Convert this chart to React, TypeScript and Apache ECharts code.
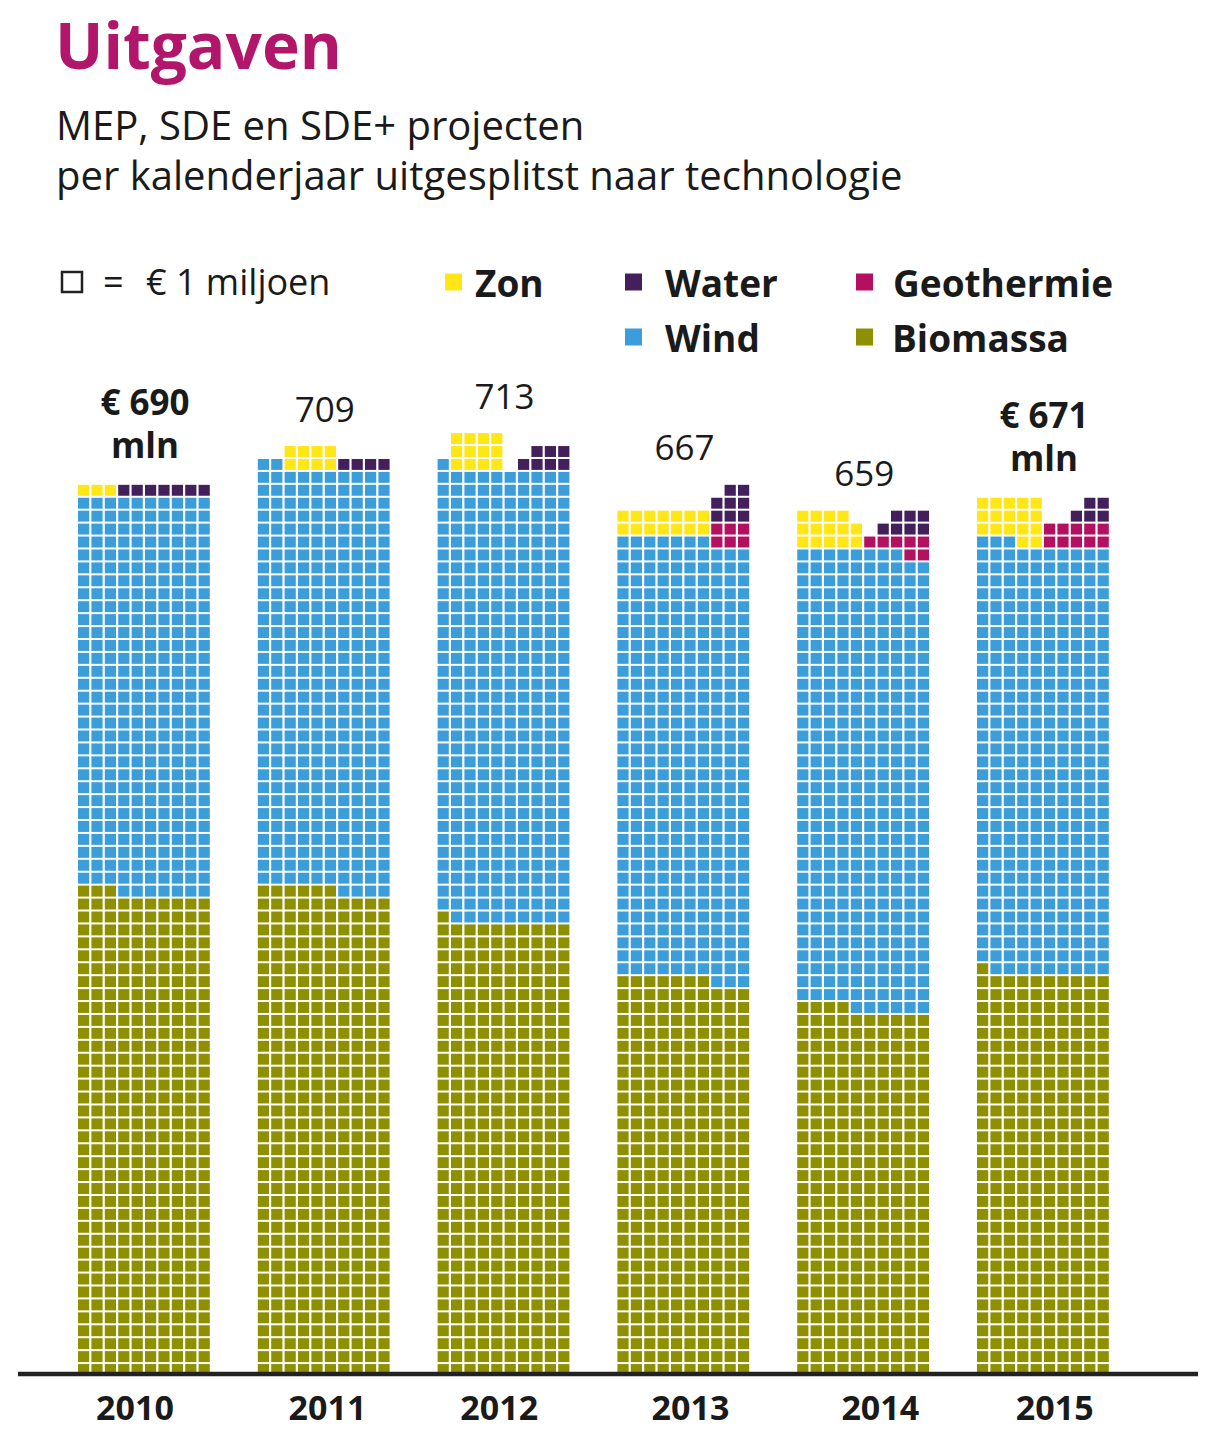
import React, { useEffect, useRef } from 'react';
import * as echarts from 'echarts';

// ---------- data (1 cell = € 1 miljoen) ----------
const years = ['2010', '2011', '2012', '2013', '2014', '2015'];
const totals = [690, 709, 713, 667, 659, 671];
const biomassa = [373, 376, 351, 307, 284, 311];
const wind = [307, 326, 350, 340, 354, 332];
const zon = [3, 8, 12, 14, 14, 17];
const geothermie = [0, 0, 0, 6, 7, 10];
const water = [7, 4, 7, 8, 7, 5];

// ---------- layout of the small blocks on top of each bar (column ranges) ----------
const zonBlockStart = [0, 2, 1, 0, 0, 0];
const zonBlockWidth = [3, 4, 4, 7, 5, 5];
const geoBlockStart = [10, 10, 10, 7, 5, 5];
const waterBlockStart = [3, 6, 6, 7, 6, 7];

const COLS = 10;
const BAR_STEP = 13.418; // in cell units
const yearLabelShift = [-0.75, 0.2, -0.4, 0.45, 1.2, 0.8];

const FONT = "'Open Sans', 'Noto Sans', sans-serif";
const TEXT = '#1a1a1a';
const seriesNames = ['Biomassa', 'Wind', 'Zon', 'Geothermie', 'Water'];
const seriesColors = ['#8f9000', '#3b9edb', '#ffe617', '#b3115f', '#43205c'];

type Cell = [number, number, number];

function buildCells(): { cells: Cell[]; topRows: number[] } {
  const cells: Cell[] = [];
  const topRows: number[] = [];
  years.forEach((_, b) => {
    const occ = new Set<number>();
    let maxRow = 0;
    const put = (row: number, col: number, cat: number) => {
      occ.add(row * COLS + col);
      cells.push([b * BAR_STEP + col, row, cat]);
      if (row > maxRow) maxRow = row;
    };
    let idx = 0;
    for (let i = 0; i < biomassa[b]; i++, idx++) put(Math.floor(idx / COLS), idx % COLS, 0);
    for (let i = 0; i < wind[b]; i++, idx++) put(Math.floor(idx / COLS), idx % COLS, 1);
    const fillBlock = (count: number, c0: number, c1: number, cat: number, rtl: boolean) => {
      let n = 0;
      for (let row = 0; n < count && row < 200; row++) {
        for (let k = 0; k < c1 - c0 && n < count; k++) {
          const col = rtl ? c1 - 1 - k : c0 + k;
          if (!occ.has(row * COLS + col)) {
            put(row, col, cat);
            n++;
          }
        }
      }
    };
    fillBlock(zon[b], zonBlockStart[b], zonBlockStart[b] + zonBlockWidth[b], 2, false);
    fillBlock(geothermie[b], geoBlockStart[b], COLS, 3, true);
    fillBlock(water[b], waterBlockStart[b], COLS, 4, true);
    topRows.push(maxRow + 1);
  });
  return { cells, topRows };
}

export default function App() {
  const ref = useRef<HTMLDivElement>(null);

  useEffect(() => {
    if (!ref.current) return;
    const chart = echarts.init(ref.current, undefined, { renderer: 'svg' });
    const { cells, topRows } = buildCells();

    const cellSeries = seriesNames.map((name, k) => ({
      type: 'custom',
      name,
      itemStyle: { color: seriesColors[k] },
      encode: { x: 0, y: 1 },
      data: cells.filter((c) => c[2] === k).map((c) => [c[0], c[1]]),
      renderItem: (params: any, api: any) => {
        const p = api.coord([api.value(0), api.value(1) + 1]);
        const s = api.size([1, 1]);
        return {
          type: 'rect',
          shape: { x: p[0], y: p[1] + 1, width: s[0] - 2.2, height: s[1] - 2 },
          style: { fill: seriesColors[k] },
        };
      },
    }));

    const labelStyle = (text: string, bold: boolean) => ({
      text,
      fontSize: 35,
      fontWeight: bold ? 'bold' : 'normal',
      fontFamily: FONT,
      fill: TEXT,
      align: 'center',
      verticalAlign: 'middle',
    });

    const totalSeries = {
      type: 'custom',
      name: 'totaal',
      encode: { x: 0, y: 1 },
      data: years.map((_, b) => [b * BAR_STEP + COLS / 2, topRows[b], b]),
      renderItem: (params: any, api: any) => {
        const b = api.value(2);
        const p = api.coord([api.value(0), api.value(1)]);
        const euro = b === 0 || b === years.length - 1;
        if (!euro) {
          return {
            type: 'text',
            x: p[0],
            y: p[1] - 37,
            style: labelStyle(`${totals[b]}`, false),
          };
        }
        return {
          type: 'group',
          children: [
            { type: 'text', x: p[0], y: p[1] - 82, style: labelStyle(`€ ${totals[b]}`, true) },
            { type: 'text', x: p[0], y: p[1] - 39, style: labelStyle('mln', true) },
          ],
        };
      },
    };

    const yearPos = years.map((_, b) => b * BAR_STEP + COLS / 2 + yearLabelShift[b]);

    const legendBase = (name: string, left: number, top: number, gap: number) => ({
      data: [name],
      left,
      top,
      padding: 0,
      icon: 'rect',
      itemWidth: 17,
      itemHeight: 17,
      selectedMode: false,
      textStyle: {
        fontSize: 37,
        fontWeight: 'bold',
        fontFamily: FONT,
        color: TEXT,
        lineHeight: 40,
        padding: [0, 0, 8, gap],
      },
    });

    chart.setOption({
      animation: false,
      backgroundColor: '#ffffff',
      grid: {
        left: 78,
        top: 1376 - 75 * 12.93,
        width: 80 * 13.4,
        height: 75 * 12.93,
        outerBoundsMode: 'none',
      },
      xAxis: {
        type: 'value',
        min: 0,
        max: 80,
        axisLine: { show: false },
        axisTick: { show: false },
        splitLine: { show: false },
        axisLabel: {
          customValues: yearPos,
          formatter: (v: number) => {
            const i = yearPos.findIndex((p) => Math.abs(p - v) < 1e-6);
            return i >= 0 ? years[i] : '';
          },
          fontSize: 34,
          fontWeight: 'bold',
          fontFamily: FONT,
          color: TEXT,
          margin: 14,
          lineHeight: 34,
        },
      },
      yAxis: { type: 'value', min: 0, max: 75, show: false },
      legend: [
        legendBase('Zon', 445, 258, 8),
        legendBase('Water', 625, 258, 18),
        legendBase('Geothermie', 856, 258, 15),
        legendBase('Wind', 625, 313, 18),
        legendBase('Biomassa', 856, 313, 14),
      ],
      graphic: {
        elements: [
          {
            type: 'text',
            x: 55,
            y: 44,
            style: {
              text: 'Uitgaven',
              fontSize: 64,
              fontWeight: 'bold',
              fontFamily: FONT,
              fill: '#b2166a',
              verticalAlign: 'middle',
            },
          },
          {
            type: 'text',
            x: 56,
            y: 124,
            style: { text: 'MEP, SDE en SDE+ projecten', fontSize: 40, fontFamily: FONT, fill: TEXT, verticalAlign: 'middle' },
          },
          {
            type: 'text',
            x: 56,
            y: 174,
            style: {
              text: 'per kalenderjaar uitgesplitst naar technologie',
              fontSize: 40,
              fontFamily: FONT,
              fill: TEXT,
              verticalAlign: 'middle',
            },
          },
          {
            type: 'rect',
            shape: { x: 62, y: 272, width: 20, height: 20 },
            style: { fill: '#fff', stroke: '#222', lineWidth: 2.5 },
          },
          {
            type: 'text',
            x: 103,
            y: 281,
            style: { text: '=', fontSize: 36, fontFamily: FONT, fill: TEXT, verticalAlign: 'middle' },
          },
          {
            type: 'text',
            x: 146,
            y: 281,
            style: { text: '€ 1 miljoen', fontSize: 36, fontFamily: FONT, fill: TEXT, verticalAlign: 'middle' },
          },
          {
            type: 'line',
            z: 100,
            shape: { x1: 18, y1: 1374, x2: 1198, y2: 1374 },
            style: { stroke: '#222', lineWidth: 4.5 },
          },
        ],
      },
      series: [...cellSeries, totalSeries],
    });

    return () => chart.dispose();
  }, []);

  return (
    <div
      ref={ref}
      style={{ position: 'absolute', left: 0, top: 0, width: 1216, height: 1440, background: '#fff' }}
    />
  );
}
